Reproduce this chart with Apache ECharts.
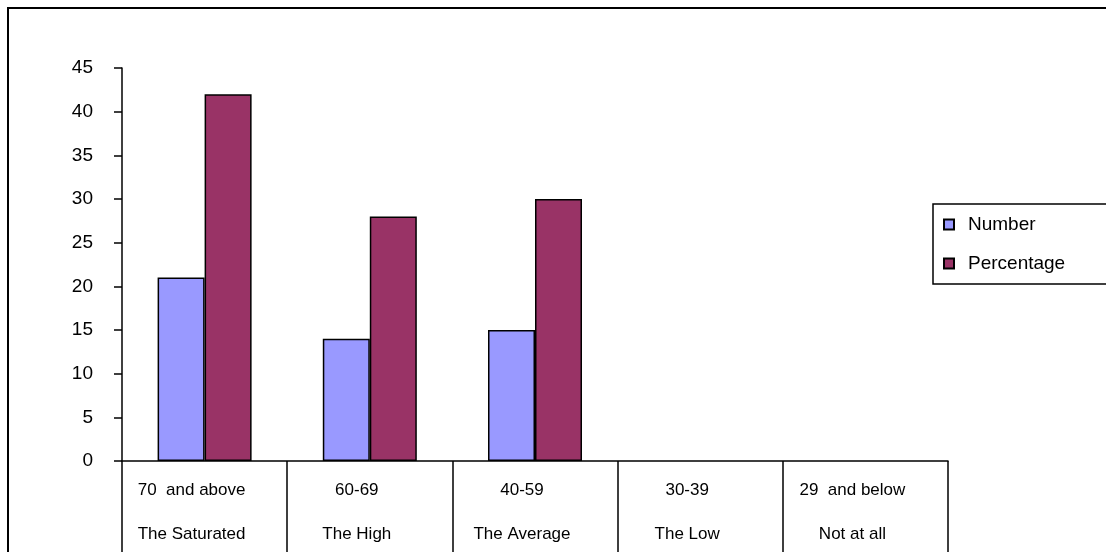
<!DOCTYPE html>
<html>
<head>
<meta charset="utf-8">
<script src="https://cdn.jsdelivr.net/npm/echarts@6/dist/echarts.min.js"></script>
<style>
  html, body { margin: 0; padding: 0; background: #fff; overflow: hidden; }
  #chart { width: 1106px; height: 552px; }
</style>
</head>
<body>
<div id="chart"></div>
<script>
// Score bands (upper row) and their group names (lower row)
const bands = ['70  and above', '60-69', '40-59', '30-39', '29  and below'];
const groups = ['The Saturated', 'The High', 'The Average', 'The Low', 'Not at all'];

// Series values per band
const numberValues = [21, 14, 15, 0, 0];
const percentageValues = [42, 28, 30, 0, 0];

// Value axis range
const yMin = 0;
const yMax = 45;
const yStep = 5;

const categories = bands.map((b, i) => b + '\n' + groups[i]);

// Empty bands get no outline so nothing is drawn on the baseline
const toItems = vals => vals.map(v => (v === 0 ? { value: v, itemStyle: { borderWidth: 0 } } : v));

const chart = echarts.init(document.getElementById('chart'));

const font = 'Arial, "Liberation Sans", sans-serif';
const barBorder = { borderColor: '#000', borderWidth: 1.5 };

chart.setOption({
  animation: false,
  backgroundColor: '#fff',
  textStyle: { fontFamily: font, color: '#000' },
  graphic: [{
    type: 'rect',
    shape: { x: 8, y: 8, width: 1200, height: 700 },
    style: { fill: 'none', stroke: '#000', lineWidth: 2 },
    silent: true
  }],
  legend: {
    orient: 'vertical',
    left: 933,
    top: 204,
    padding: [10, 200, 10, 10],
    itemGap: 18,
    itemWidth: 10,
    itemHeight: 10,
    icon: 'rect',
    borderColor: '#000',
    borderWidth: 1.5,
    textStyle: { fontFamily: font, fontSize: 19, color: '#000', lineHeight: 21, padding: [0, 0, 0, 9] }
  },
  grid: {
    left: 122, top: 68, right: 158, bottom: 91,
    containLabel: false,
    outerBoundsMode: 'none'
  },
  xAxis: {
    type: 'category',
    data: categories,
    boundaryGap: true,
    axisLine: { lineStyle: { color: '#000', width: 1.5 } },
    // long ticks at the band boundaries form the label table below the axis
    axisTick: { show: true, length: 95, interval: 0, lineStyle: { color: '#000', width: 1.5 } },
    axisLabel: {
      interval: 0,
      margin: 7,
      fontFamily: font,
      fontSize: 17,
      color: '#000',
      lineHeight: 44,
      padding: [0, 26, 0, 0]
    },
    splitLine: { show: false }
  },
  yAxis: {
    type: 'value',
    min: yMin,
    max: yMax,
    interval: yStep,
    axisLine: { show: true, lineStyle: { color: '#000', width: 1.5 } },
    axisTick: { show: true, length: 8, lineStyle: { color: '#000', width: 1.5 } },
    axisLabel: { margin: 29, fontFamily: font, fontSize: 19, color: '#000' },
    splitLine: { show: false }
  },
  series: [
    {
      name: 'Number',
      type: 'bar',
      data: toItems(numberValues),
      barWidth: 47,
      barGap: '0%',
      itemStyle: Object.assign({ color: '#9999FF' }, barBorder)
    },
    {
      name: 'Percentage',
      type: 'bar',
      data: toItems(percentageValues),
      barWidth: 47,
      barGap: '0%',
      itemStyle: Object.assign({ color: '#993366' }, barBorder)
    }
  ]
});
</script>
</body>
</html>
